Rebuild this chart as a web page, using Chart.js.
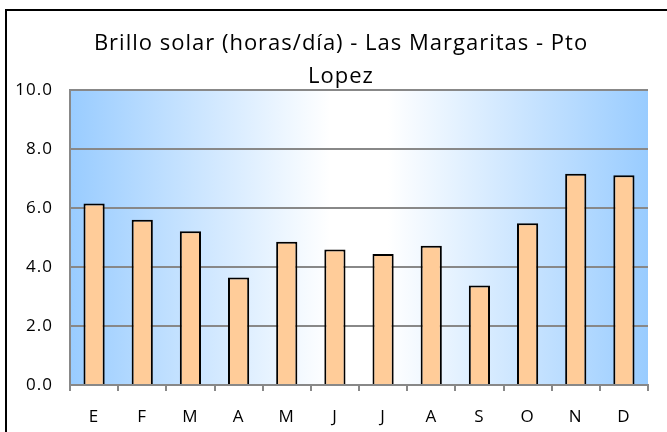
<!DOCTYPE html>
<html>
<head>
<meta charset="utf-8">
<script src="https://cdn.jsdelivr.net/npm/chart.js@4.4.1/dist/chart.umd.min.js"></script>
<style>
  html, body { margin: 0; padding: 0; background: #fff; }
  #wrap { width: 667px; height: 432px; }
</style>
</head>
<body>
<div id="wrap"><canvas id="chart" width="667" height="432"></canvas></div>
<script>
const titleLines = ["Brillo solar (horas/día) - Las Margaritas - Pto", "Lopez"];
const months = ["E", "F", "M", "A", "M", "J", "J", "A", "S", "O", "N", "D"];
const hours = [6.15, 5.6, 5.21, 3.64, 4.86, 4.59, 4.44, 4.72, 3.37, 5.48, 7.16, 7.11];
const yTicks = [0, 2, 4, 6, 8, 10];

const FONT = "'Open Sans', sans-serif";

// white page, black frame, blue-white-blue band behind the bars
const backdrop = {
  id: "backdrop",
  beforeDraw(chart) {
    const { ctx, chartArea: a } = chart;
    ctx.save();
    ctx.fillStyle = "#fff";
    ctx.fillRect(0, 0, chart.width, chart.height);

    const g = ctx.createLinearGradient(a.left, 0, a.right, 0);
    g.addColorStop(0, "#99ccff");
    g.addColorStop(0.45, "#ffffff");
    g.addColorStop(0.55, "#ffffff");
    g.addColorStop(1, "#99ccff");
    ctx.fillStyle = g;
    ctx.fillRect(a.left, a.top, a.right - a.left, a.bottom - a.top);

    ctx.strokeStyle = "#000";
    ctx.lineWidth = 2;
    ctx.strokeRect(6, 10, chart.width + 10, chart.height + 10);
    ctx.restore();
    // axis labels are set a little loose
    ctx.letterSpacing = "1px";
  },
  afterDraw(chart) {
    const { ctx } = chart;
    ctx.save();
    ctx.fillStyle = "#000";
    ctx.font = "22px " + FONT;
    ctx.letterSpacing = "1px";
    ctx.textAlign = "center";
    ctx.textBaseline = "middle";
    titleLines.forEach((t, i) => ctx.fillText(t, 341, 44 + i * 33));
    ctx.restore();
  }
};

new Chart(document.getElementById("chart"), {
  type: "bar",
  data: {
    labels: months,
    datasets: [{
      data: hours,
      backgroundColor: "#ffcc99",
      borderColor: "#000",
      borderWidth: 2,
      categoryPercentage: 1,
      barPercentage: 0.44
    }]
  },
  options: {
    responsive: false,
    animation: false,
    layout: { padding: { left: 6, right: 19, top: 90, bottom: 0 } },
    plugins: {
      legend: { display: false },
      title: { display: false },
      tooltip: { enabled: false }
    },
    scales: {
      x: {
        offset: true,
        grid: {
          offset: true,
          drawOnChartArea: false,
          drawTicks: true,
          tickLength: 6,
          color: "#888",
          lineWidth: 2
        },
        border: { color: "#888", width: 2 },
        ticks: { color: "#000", font: { family: FONT, size: 17 }, padding: 16 },
        afterFit(s) { s.height = 47; }
      },
      y: {
        min: 0,
        max: 10,
        afterBuildTicks(s) { s.ticks = yTicks.map(v => ({ value: v })); },
        grid: { color: "#888", lineWidth: 2, drawTicks: false },
        border: { color: "#888", width: 2 },
        ticks: {
          color: "#000",
          font: { family: FONT, size: 17 },
          padding: 17,
          callback: v => v.toFixed(1)
        },
        afterFit(s) { s.width = 64; }
      }
    }
  },
  plugins: [backdrop]
});
</script>
</body>
</html>
